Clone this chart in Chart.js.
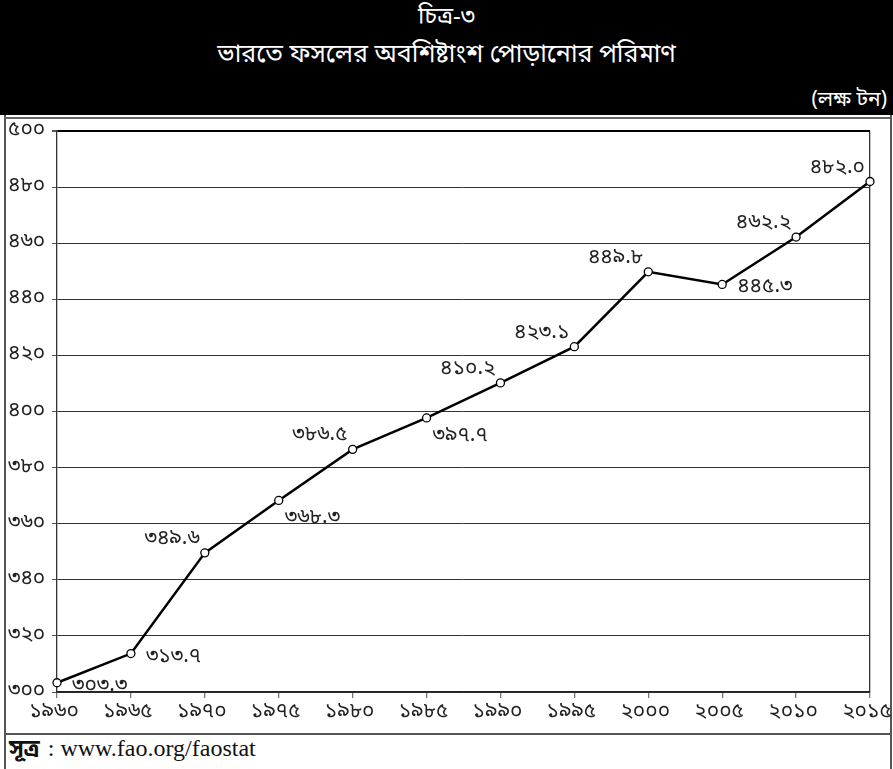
<!DOCTYPE html>
<html>
<head>
<meta charset="utf-8">
<script src="https://cdn.jsdelivr.net/npm/chart.js@4/dist/chart.umd.min.js"></script>
<style>
  body { margin: 0; background: #fff; }
  #page { position: relative; width: 893px; height: 769px; overflow: hidden; font-family: "Noto Sans Bengali", "Lohit Bengali", "FreeSans", "Noto Sans", sans-serif; }
  #header { position: absolute; left: 0; top: 0; width: 893px; height: 115px; background: #000; color: #fff; }
  #header .t1 { position: absolute; top: 2px; width: 100%; text-align: center; font-size: 24px; }
  #header .t2 { position: absolute; top: 39px; width: 100%; text-align: center; font-size: 25px; }
  #header .unit { position: absolute; right: 6px; top: 87px; font-size: 21px; }
  #rule-top { position: absolute; left: 4px; width: 886px; top: 117px; height: 2px; background: #666; }
  #frame { position: absolute; left: 4px; top: 115px; width: 884px; height: 660px; border-left: 2px solid #555; border-right: 2px solid #555; }
  #rule-bottom { position: absolute; left: 4px; width: 886px; top: 733px; height: 2px; background: #555; }
  #source { position: absolute; left: 9px; top: 735px; font-size: 24px; font-family: "Liberation Serif", "DejaVu Serif", serif; color: #111; white-space: nowrap; }
  #source b { font-family: "Noto Sans Bengali", "Lohit Bengali", "FreeSans", sans-serif; font-size: 23px; margin-right: 8px; }
  #wrap { position: absolute; left: 0; top: 118px; width: 893px; height: 614px; }
</style>
</head>
<body>
<div id="page">
  <div id="header">
    <div class="t1">চিত্র-৩</div>
    <div class="t2">ভারতে ফসলের অবশিষ্টাংশ পোড়ানোর পরিমাণ</div>
    <div class="unit">(লক্ষ টন)</div>
  </div>
  <div id="frame"></div>
  <div id="rule-top"></div>
  <div id="wrap"><canvas id="chart"></canvas></div>
  <div id="rule-bottom"></div>
  <div id="source"><b>সূত্র</b>: www.fao.org/faostat</div>
</div>
<script>
  // --- Data ---
  const years = ['১৯৬০', '১৯৬৫', '১৯৭০', '১৯৭৫', '১৯৮০', '১৯৮৫', '১৯৯০', '১৯৯৫', '২০০০', '২০০৫', '২০১০', '২০১৫'];
  const burnt = [303.3, 313.7, 349.6, 368.3, 386.5, 397.7, 410.2, 423.1, 449.8, 445.3, 462.2, 482.0];
  const yTickLabels = ['৩০০', '৩২০', '৩৪০', '৩৬০', '৩৮০', '৪০০', '৪২০', '৪৪০', '৪৬০', '৪৮০', '৫০০'];
  // where each value label sits relative to its point
  const labelSide = ['right', 'right', 'above', 'below', 'above', 'below', 'above', 'above', 'above', 'right', 'above', 'above'];

  const bnDigits = ['০', '১', '২', '৩', '৪', '৫', '৬', '৭', '৮', '৯'];
  const toBengali = (s) => String(s).replace(/[0-9]/g, d => bnDigits[d]);

  const bnFont = '"Noto Sans Bengali", "Lohit Bengali", "FreeSans", "Noto Sans", sans-serif';

  // --- Value labels plugin ---
  const valueLabels = {
    id: 'valueLabels',
    afterDatasetsDraw(chart) {
      const ctx = chart.ctx;
      const meta = chart.getDatasetMeta(0);
      ctx.save();
      ctx.font = '21px ' + bnFont;
      ctx.fillStyle = '#222';
      ctx.textBaseline = 'middle';
      meta.data.forEach((pt, i) => {
        const txt = toBengali(burnt[i].toFixed(1));
        const side = labelSide[i];
        if (side === 'above') {
          ctx.textAlign = 'right';
          ctx.fillText(txt, pt.x - 5, pt.y - 13);
        } else if (side === 'below') {
          ctx.textAlign = 'left';
          ctx.fillText(txt, pt.x + 6, pt.y + 19);
        } else {
          ctx.textAlign = 'left';
          ctx.fillText(txt, pt.x + 15, pt.y + 4);
        }
      });
      ctx.restore();
    }
  };

  // keep the plot edges fixed, labels may run into the margins
  const noEdgePadding = (s) => { s.paddingLeft = 0; s.paddingRight = 0; s.paddingTop = 0; s.paddingBottom = 0; };

  const ctx = document.getElementById('chart').getContext('2d');
  new Chart(ctx, {
    type: 'line',
    data: {
      labels: years,
      datasets: [{
        data: burnt,
        borderColor: '#000',
        borderWidth: 2.5,
        tension: 0,
        pointRadius: 4,
        pointBackgroundColor: '#fff',
        pointBorderColor: '#000',
        pointBorderWidth: 1.3
      }]
    },
    options: {
      responsive: true,
      maintainAspectRatio: false,
      animation: false,
      layout: { padding: { left: 8, right: 23, top: 13, bottom: 0 } },
      plugins: { legend: { display: false }, tooltip: { enabled: false } },
      scales: {
        x: {
          type: 'category',
          offset: false,
          afterFit: (s) => { noEdgePadding(s); s.height = 40; },
          grid: {
            color: (c) => c.index === years.length - 1 ? '#333' : 'transparent',
            tickColor: '#777',
            tickLength: 6,
            lineWidth: 1.3
          },
          border: { color: '#222', width: 1.5 },
          ticks: { color: '#222', font: { size: 21, family: bnFont }, padding: 2, labelOffset: -3, maxRotation: 0, autoSkip: false }
        },
        y: {
          min: 300,
          max: 500,
          afterFit: (s) => { noEdgePadding(s); s.width = 49; },
          grid: {
            color: (c) => c.tick && c.tick.value === 500 ? '#000' : '#333',
            lineWidth: (c) => c.tick && c.tick.value === 500 ? 2 : 1,
            tickColor: '#555',
            tickLength: 5
          },
          border: { color: '#333', width: 1.3 },
          ticks: {
            stepSize: 20,
            color: '#222',
            crossAlign: 'far',
            padding: 3,
            font: { size: 21, family: bnFont },
            callback: (v, i) => yTickLabels[i]
          }
        }
      }
    },
    plugins: [valueLabels]
  });
</script>
</body>
</html>
